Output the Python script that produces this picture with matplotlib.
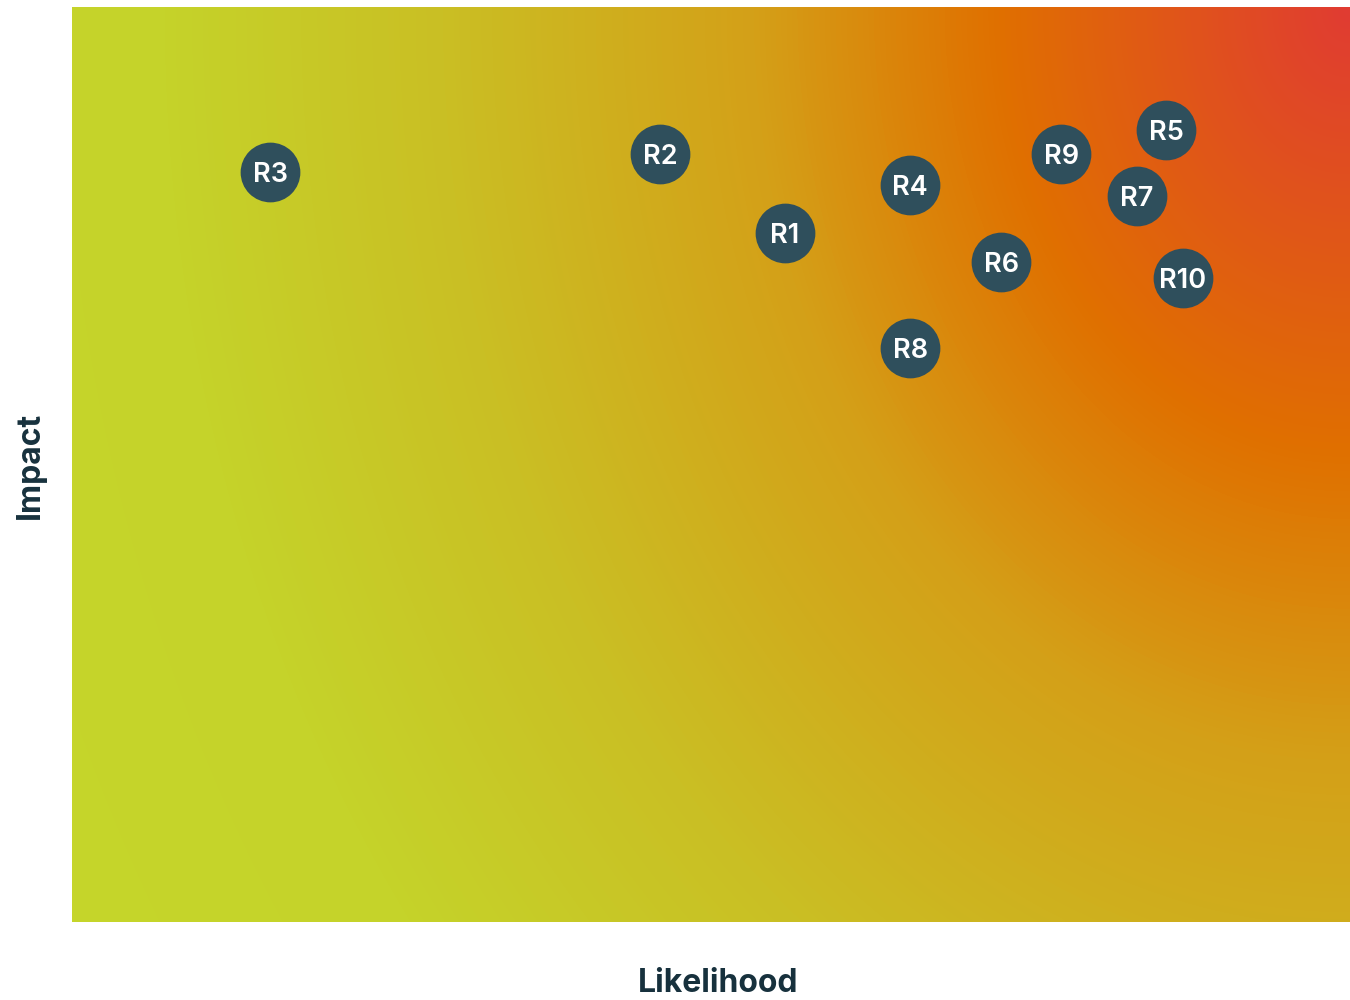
import numpy as np
import matplotlib.pyplot as plt
from matplotlib.colors import LinearSegmentedColormap

# risk register (likelihood, impact on a 0-10 scale)
risks = ["R1", "R2", "R3", "R4", "R5", "R6", "R7", "R8", "R9", "R10"]
likelihood = [5.58, 4.60, 1.55, 6.56, 8.56, 7.27, 8.33, 6.56, 7.74, 8.69]
impact = [7.53, 8.39, 8.20, 8.05, 8.66, 7.21, 7.93, 6.27, 8.39, 7.04]

dark = "#2F4F5C"
text_dark = "#17313D"

fig = plt.figure(figsize=(13.5, 10), dpi=100)
ax = fig.add_axes([72/1350, 78/1000, 1278/1350, 915/1000])

# background heat gradient, hot in the top-right corner
gx, gy = np.meshgrid(np.linspace(0, 10, 400), np.linspace(0, 10, 300))
dx = (10 - gx) * 1278 / 10
dy = (10 - gy) * 915 / 10
d = np.sqrt((dx / 350) ** 2 + (dy / 443) ** 2)
heat = LinearSegmentedColormap.from_list("heat", [
    (0.0, "#E03C32"),
    (1.0 / 4.0, "#E07000"),
    (1.7 / 4.0, "#D4A018"),
    (2.6 / 4.0, "#CABF24"),
    (3.4 / 4.0, "#C5D32A"),
    (1.0, "#C5D52A"),
])
ax.imshow(np.clip(d / 4.0, 0, 1), cmap=heat, vmin=0, vmax=1, origin="lower",
          extent=[0, 10, 0, 10], aspect="auto", interpolation="bilinear")

ax.scatter(likelihood, impact, s=1850, color=dark, zorder=3, linewidths=0)
for name, x, y in zip(risks, likelihood, impact):
    ax.text(x, y, name, color="white", fontsize=19.5, fontweight="semibold",
            family="Inter", ha="center", va="center_baseline", zorder=4)

ax.set_xlim(0, 10)
ax.set_ylim(0, 10)
ax.set_xticks([])
ax.set_yticks([])
for sp in ax.spines.values():
    sp.set_visible(False)

fig.text(718/1350, 1 - 983/1000, "Likelihood", ha="center", va="center",
         fontsize=23, fontweight="bold", family="Inter", color=text_dark)
fig.text(30/1350, 1 - 465/1000, "Impact", ha="center", va="center", rotation=90,
         fontsize=23, fontweight="bold", family="Inter", color=text_dark)

fig.savefig("out.png", dpi=100)
